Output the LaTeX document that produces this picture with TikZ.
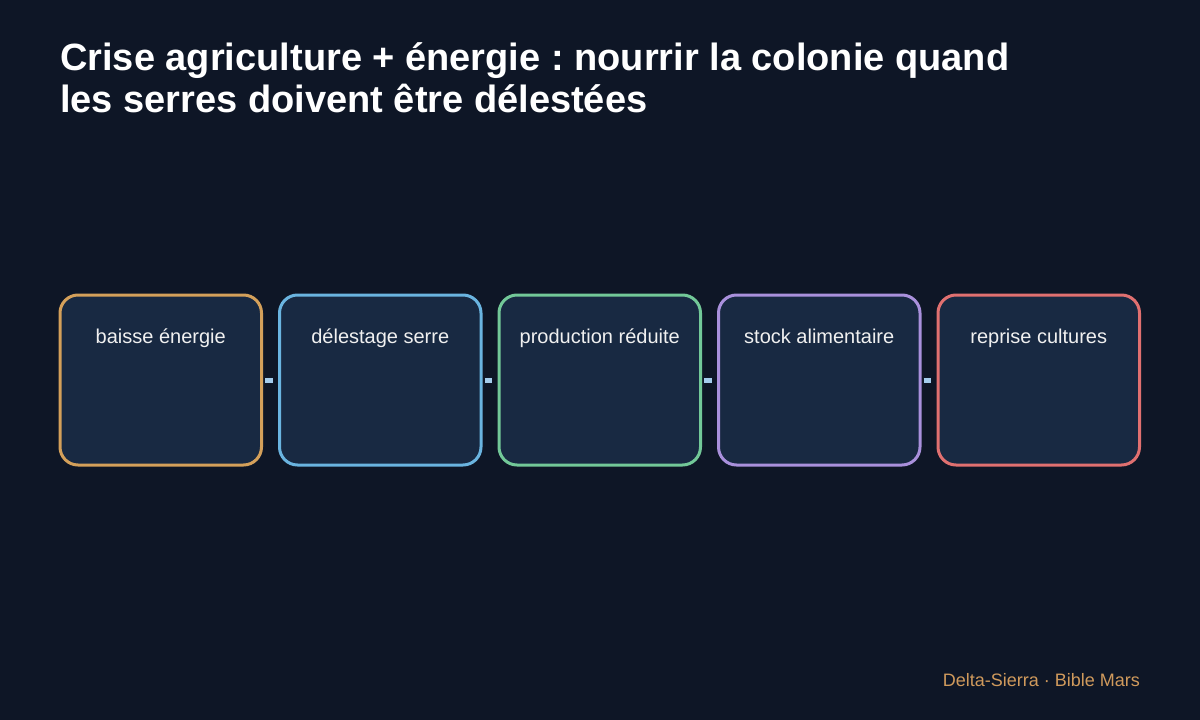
\documentclass[tikz,border=0pt]{standalone}
\usepackage{fontspec}
\setmainfont{Liberation Sans}
\frenchspacing
\definecolor{bg}{HTML}{0E1626}
\definecolor{boxfill}{HTML}{182942}
\definecolor{cOrange}{HTML}{D4A05A}
\definecolor{cBlue}{HTML}{6AB4E0}
\definecolor{cGreen}{HTML}{72C898}
\definecolor{cPurple}{HTML}{A990DC}
\definecolor{cRed}{HTML}{E07070}
\definecolor{conn}{HTML}{A4CCEC}
\definecolor{foot}{HTML}{D09A5C}
\begin{document}
\begin{tikzpicture}[x=1pt,y=-1pt,
  stagebox/.style={draw, line width=3pt, fill=boxfill, rounded corners=18pt,
    minimum width=201.5pt, minimum height=170pt, inner sep=0pt, outer sep=0pt, anchor=north west},
  lbl/.style={text=white!94!black, font=\fontsize{20}{24}\selectfont, anchor=base},
  link/.style={draw=conn, line width=5pt},
  ttl/.style={anchor=base west, text=white, font=\bfseries\fontsize{38}{42}\selectfont, inner sep=0pt}]
\useasboundingbox (0,0) rectangle (1200,720);
\fill[bg] (0,0) rectangle (1200,720);
\node[ttl] (t1) at (60,70) {Crise agriculture + énergie : nourrir la colonie quand};
\node[ttl] (t2) at (60,112) {les serres doivent être délestées};
\node[stagebox, draw=cOrange] (b1) at (60,295) {};
\node[stagebox, draw=cBlue] (b2) at (279.5,295) {};
\node[stagebox, draw=cGreen] (b3) at (499,295) {};
\node[stagebox, draw=cPurple] (b4) at (718.5,295) {};
\node[stagebox, draw=cRed] (b5) at (938,295) {};
\node[lbl] (l1) at (b1.north |- 0,343) {baisse énergie};
\node[lbl] (l2) at (b2.north |- 0,343) {délestage serre};
\node[lbl] (l3) at (b3.north |- 0,343) {production réduite};
\node[lbl] (l4) at (b4.north |- 0,343) {stock alimentaire};
\node[lbl] (l5) at (b5.north |- 0,343) {reprise cultures};
\foreach \a/\b in {b1/b2,b2/b3,b3/b4,b4/b5}{
  \draw[link] ([xshift=3.5pt]\a.east) -- ([xshift=-7pt]\b.west);
}
\node[anchor=base east, text=foot, font=\fontsize{18}{22}\selectfont, inner sep=0pt] (ft) at (1140,686) {Delta-Sierra · Bible Mars};
\end{tikzpicture}
\end{document}
